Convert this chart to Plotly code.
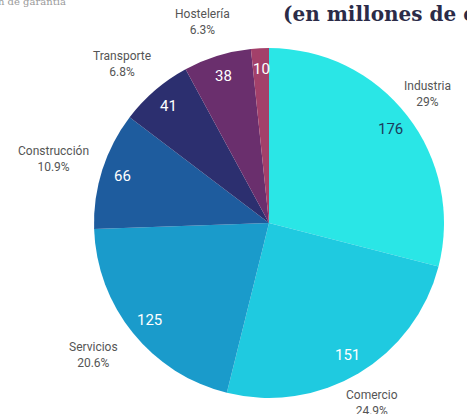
import math
import plotly.graph_objects as go

labels = ["Industria", "Comercio", "Servicios", "Construcción", "Transporte", "Hostelería", "Otros"]
values = [176, 151, 125, 66, 41, 38, 10]
colors = ["#2ae6e6", "#1fcae0", "#1a9bcb", "#1e5c9e", "#2c2f6f", "#6a2f6d", "#a3406a"]
show_outside = [True, True, True, True, True, True, False]
value_text_colors = ["#1d3b5c", "#ffffff", "#ffffff", "#ffffff", "#ffffff", "#ffffff", "#ffffff"]

total = sum(values)
def fmt_pct(v):
    p = round(100 * v / total, 1)
    s = f"{p:.1f}"
    if s.endswith(".0"):
        s = s[:-2]
    return s + "%"

W, H = 467, 414
cx, cy, r = 269, 223, 175
dom_x = [(cx - r) / W, (cx + r) / W]
dom_y = [(H - cy - r) / H, (H - cy + r) / H]

fig = go.Figure()
fig.add_trace(go.Pie(
    labels=labels, values=values, sort=False, direction="clockwise", rotation=0,
    marker=dict(colors=colors, line=dict(width=0)),
    textinfo="none",
    domain=dict(x=dom_x, y=dom_y), showlegend=False, hoverinfo="label+value+percent",
))

# label positions derived from the slice mid-angles
cum = 0
for lab, v, show, tc in zip(labels, values, show_outside, value_text_colors):
    mid = (cum + v / 2) / total * 2 * math.pi
    cum += v
    sx, sy = math.sin(mid), -math.cos(mid)
    ri = 0.88 * r
    fig.add_annotation(text=str(v), x=(cx + ri * sx) / W, y=1 - (cy + ri * sy) / H,
                       xref="paper", yref="paper", xanchor="center", yanchor="middle",
                       showarrow=False, font=dict(family="Roboto", size=15, color=tc))
    if show:
        fx = 200 if sx > 0 else 226
        px = cx + fx * sx
        py = cy + 210 * sy
        fig.add_annotation(text=f"{lab}<br>{fmt_pct(v)}", x=px / W, y=1 - py / H,
                           xref="paper", yref="paper", xanchor="center", yanchor="middle",
                           showarrow=False, font=dict(family="Roboto", size=12, color="#555555"))

fig.add_annotation(text="(en millones de euros)", x=281 / W, y=1 - 0 / H, xref="paper", yref="paper",
                   xanchor="left", yanchor="top", showarrow=False,
                   font=dict(family="DejaVu Serif", size=20, color="#2b2b48", weight="bold"))
fig.add_annotation(text="n de garantía", x=-4 / W, y=1 + 6 / H, xref="paper", yref="paper",
                   xanchor="left", yanchor="top", showarrow=False,
                   font=dict(family="DejaVu Serif", size=10, color="#9a9a9a"))

fig.update_layout(width=W, height=H, margin=dict(l=0, r=0, t=0, b=0),
                  paper_bgcolor="white", plot_bgcolor="white")
fig.write_html("out.html", config={"displayModeBar": False},
               post_script="document.body.style.margin='0';")
